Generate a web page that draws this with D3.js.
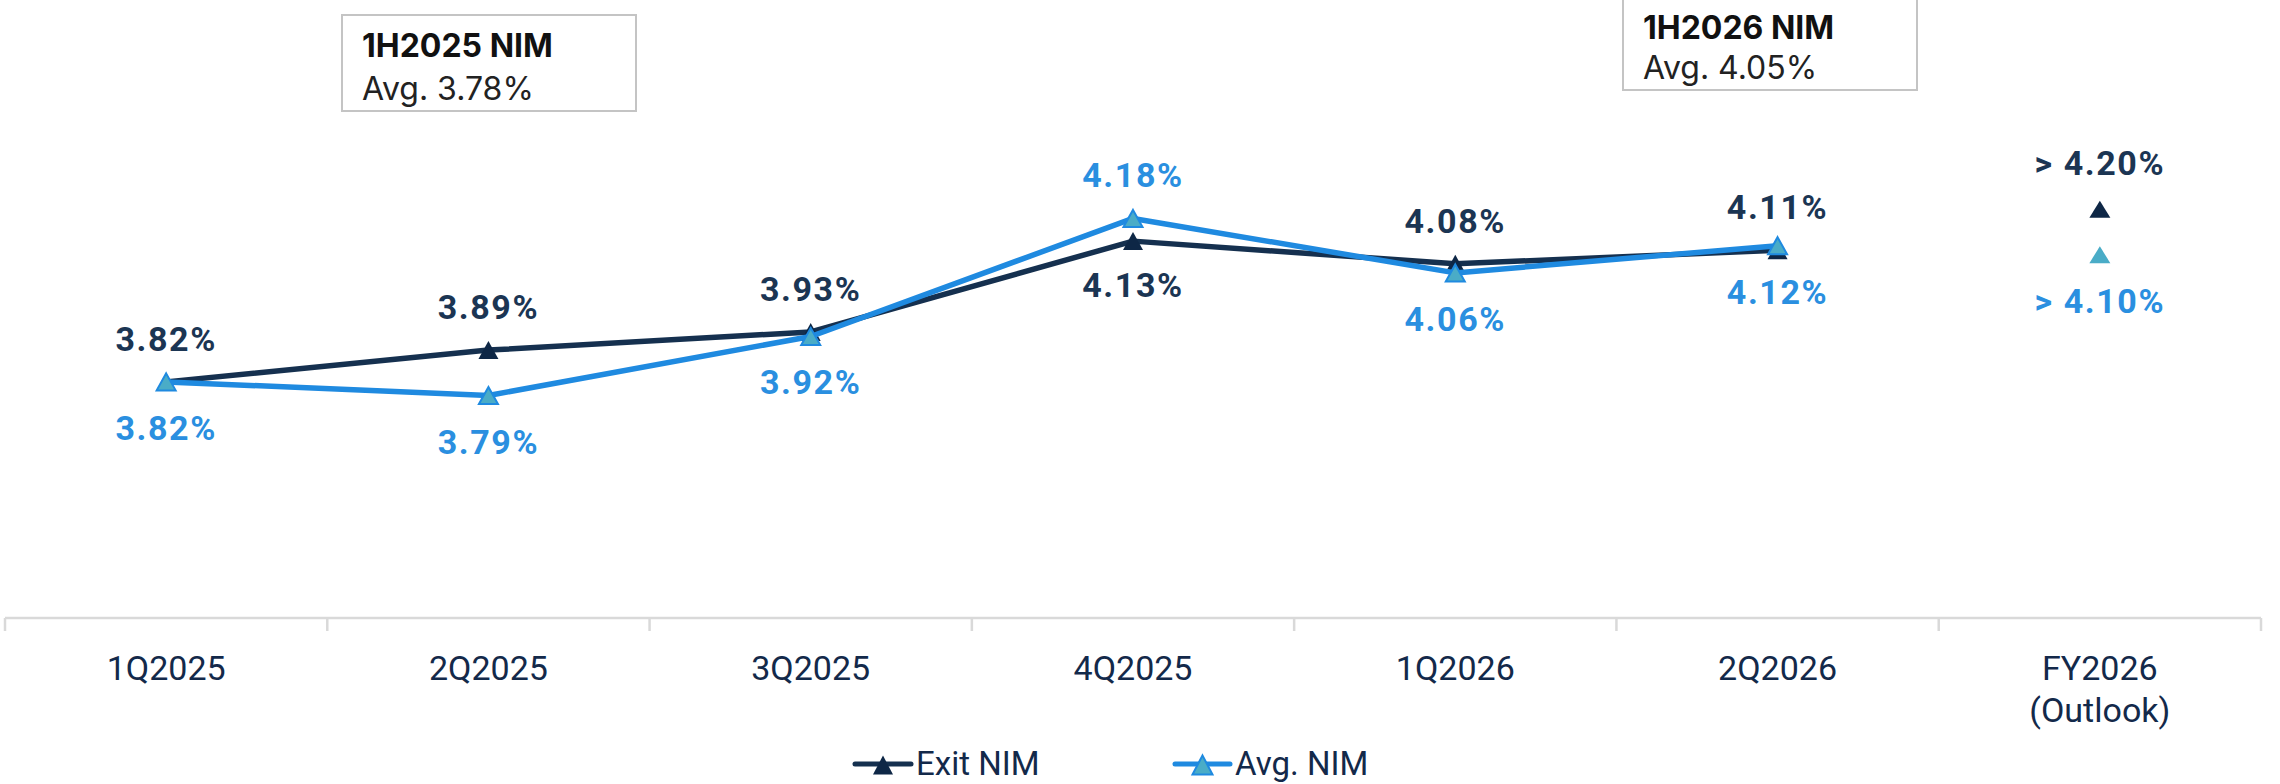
<!DOCTYPE html>
<html>
<head>
<meta charset="utf-8">
<script src="https://cdn.jsdelivr.net/npm/d3@7/dist/d3.min.js"></script>
<style>
  html, body { margin: 0; padding: 0; background: #fff; }
  svg { display: block; }
</style>
</head>
<body>
<svg id="chart" width="2280" height="784"></svg>
<script>
// ---- data ----
const categories = ["1Q2025", "2Q2025", "3Q2025", "4Q2025", "1Q2026", "2Q2026", "FY2026\n(Outlook)"];
const exitNIM = [3.82, 3.89, 3.93, 4.13, 4.08, 4.11, 4.20];
const avgNIM  = [3.82, 3.79, 3.92, 4.18, 4.06, 4.12, 4.10];
const exitLabelSide = ["above", "above", "above", "below", "above", "above", "above"];
const avgLabelSide  = ["below", "below", "below", "above", "below", "below", "below"];
const outlookIndex = 6;            // FY2026 shown as markers only
const seriesNames = ["Exit NIM", "Avg. NIM"];
const boxTitles = ["1H2025 NIM", "1H2026 NIM"];
const boxValues = [3.78, 4.05];

// ---- styles ----
const C = {
  exitLine: "#15304f", exitMarker: "#0e2746", exitLabel: "#1b3553",
  avgLine: "#1f8ae0", avgMarker: "#4aacc7", avgLabel: "#2a8fe0",
  axis: "#d9d9d9", axisText: "#13294a", box: "#c4c4c4"
};

const svg = d3.select("#chart");

const x = d3.scaleBand().domain(categories).range([5, 2261]).padding(0);
const y = d3.scaleLinear().domain([3.3, 4.7]).range([618, -17.7]);
const cx = i => x(categories[i]) + x.bandwidth() / 2;

// ---- x axis ----
const axisG = svg.append("g").attr("transform", `translate(0,${y(3.3)})`);
axisG.append("line")
  .attr("x1", x.range()[0]).attr("x2", x.range()[1])
  .attr("y1", 0).attr("y2", 0)
  .attr("stroke", C.axis).attr("stroke-width", 2.5);
const bounds = categories.map(c => x(c)).concat([x.range()[1]]);
axisG.selectAll("line.tick").data(bounds).join("line")
  .attr("class", "tick")
  .attr("x1", d => d).attr("x2", d => d)
  .attr("y1", 0).attr("y2", 13)
  .attr("stroke", C.axis).attr("stroke-width", 2.5);

const labG = svg.append("g");
categories.forEach((c, i) => {
  const lines = c.split("\n");
  const t = labG.append("text")
    .attr("x", cx(i)).attr("y", 680)
    .attr("text-anchor", "middle")
    .attr("font-family", "Roboto, sans-serif")
    .attr("font-size", 34)
    .attr("fill", C.axisText);
  lines.forEach((ln, k) => {
    t.append("tspan").attr("x", cx(i)).attr("dy", k === 0 ? 0 : 42).text(ln);
  });
});

// ---- triangle path centered on bbox ----
function tri(w, h) {
  return `M0,${-h/2}L${w/2},${h/2}L${-w/2},${h/2}Z`;
}

// ---- lines ----
const lineGen = d3.line().x((d, i) => cx(i)).y(d => y(d));
const exitLineData = exitNIM.slice(0, outlookIndex);
const avgLineData = avgNIM.slice(0, outlookIndex);

svg.append("path").datum(exitLineData)
  .attr("d", lineGen).attr("fill", "none")
  .attr("stroke", C.exitLine).attr("stroke-width", 5.5)
  .attr("stroke-linejoin", "round").attr("stroke-linecap", "round");
svg.append("g").selectAll("path").data(exitLineData).join("path")
  .attr("d", tri(20, 18))
  .attr("transform", (d, i) => `translate(${cx(i)},${y(d)})`)
  .attr("fill", C.exitMarker);

svg.append("path").datum(avgLineData)
  .attr("d", lineGen).attr("fill", "none")
  .attr("stroke", C.avgLine).attr("stroke-width", 5.5)
  .attr("stroke-linejoin", "round").attr("stroke-linecap", "round");
svg.append("g").selectAll("path").data(avgLineData).join("path")
  .attr("d", tri(19, 17))
  .attr("transform", (d, i) => `translate(${cx(i)},${y(d)})`)
  .attr("fill", C.avgMarker).attr("stroke", C.avgLine).attr("stroke-width", 2);

// outlook markers
svg.append("path").attr("d", tri(21, 17))
  .attr("transform", `translate(${cx(outlookIndex)},${y(exitNIM[outlookIndex])})`)
  .attr("fill", C.exitMarker);
svg.append("path").attr("d", tri(21, 17))
  .attr("transform", `translate(${cx(outlookIndex)},${y(avgNIM[outlookIndex])})`)
  .attr("fill", C.avgMarker);

// ---- data labels ----
function addLabels(values, sides, color) {
  svg.append("g").selectAll("text").data(values).join("text")
    .attr("x", (d, i) => cx(i))
    .attr("y", (d, i) => {
      const py = y(d);
      if (sides[i] === "above") return py - (i === outlookIndex ? 34 : 31);
      return py + (i === 3 ? 56 : 58);
    })
    .attr("text-anchor", "middle")
    .attr("font-family", "Roboto, sans-serif")
    .attr("font-weight", 700)
    .attr("font-size", 34)
    .attr("letter-spacing", 1.6)
    .attr("fill", color)
    .text((d, i) => (i === outlookIndex ? "> " : "") + d.toFixed(2) + "%");
}
addLabels(exitNIM, exitLabelSide, C.exitLabel);
addLabels(avgNIM, avgLabelSide, C.avgLabel);

// ---- annotation boxes ----
const boxes = [
  { x: 342, y: 15, w: 294, h: 96, tx: 362, b1: 57, b2: 100 },
  { x: 1623, y: -6, w: 294, h: 96, tx: 1643, b1: 39, b2: 79 }
];
boxes.forEach((b, i) => {
  svg.append("rect").attr("x", b.x).attr("y", b.y).attr("width", b.w).attr("height", b.h)
    .attr("fill", "#fff").attr("stroke", C.box).attr("stroke-width", 2);
  svg.append("text").attr("x", b.tx).attr("y", b.b1)
    .attr("font-family", "Inter, sans-serif").attr("font-weight", 700)
    .attr("font-size", 32).attr("fill", "#111").text(boxTitles[i]);
  svg.append("text").attr("x", b.tx).attr("y", b.b2)
    .attr("font-family", "Inter, sans-serif").attr("font-weight", 400)
    .attr("font-size", 32).attr("fill", "#222").text("Avg. " + boxValues[i].toFixed(2) + "%");
});

// ---- legend ----
const legend = [
  { x0: 855, x1: 911, tx: 916, line: C.exitLine, fill: C.exitMarker, stroke: null },
  { x0: 1175, x1: 1230, tx: 1235, line: C.avgLine, fill: C.avgMarker, stroke: C.avgLine }
];
legend.forEach((l, i) => {
  const ly = 764;
  svg.append("line").attr("x1", l.x0).attr("x2", l.x1).attr("y1", ly).attr("y2", ly)
    .attr("stroke", l.line).attr("stroke-width", 5).attr("stroke-linecap", "round");
  const m = svg.append("path").attr("d", tri(20, 19))
    .attr("transform", `translate(${(l.x0 + l.x1) / 2},${ly + 1})`)
    .attr("fill", l.fill);
  if (l.stroke) m.attr("stroke", l.stroke).attr("stroke-width", 2);
  svg.append("text").attr("x", l.tx).attr("y", 775)
    .attr("font-family", "Roboto, sans-serif").attr("font-size", 33)
    .attr("fill", C.axisText).text(seriesNames[i]);
});
</script>
</body>
</html>
